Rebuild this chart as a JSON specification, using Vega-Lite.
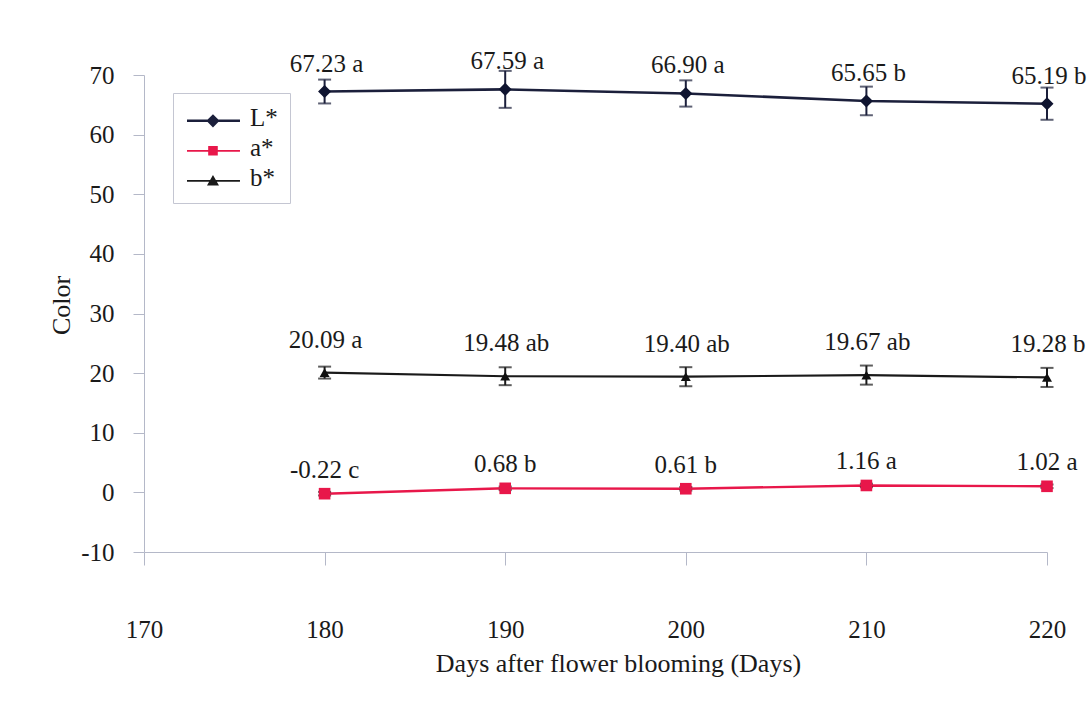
{
  "$schema": "https://vega.github.io/schema/vega-lite/v6.json",
  "autosize": "none",
  "width": 903,
  "height": 477,
  "padding": {"left": 144, "top": 75, "right": 43, "bottom": 149},
  "background": "white",
  "config": {
    "font": "Liberation Serif",
    "view": {"stroke": null},
    "axis": {"labelFont": "Liberation Serif", "titleFont": "Liberation Serif", "labelColor": "#1a1a1a", "titleColor": "#1a1a1a", "titleFontWeight": "normal", "grid": false, "domainColor": "#b4b8c8", "tickColor": "#b4b8c8", "domainWidth": 1, "tickWidth": 1, "labelFlush": false, "labelOverlap": false}
  },
  "data": {"values": [
    {"day": 180, "series": "L*", "value": 67.23, "err": 2.0, "label": "67.23 a"},
    {"day": 190, "series": "L*", "value": 67.59, "err": 3.1, "label": "67.59 a"},
    {"day": 200, "series": "L*", "value": 66.90, "err": 2.2, "label": "66.90 a"},
    {"day": 210, "series": "L*", "value": 65.65, "err": 2.4, "label": "65.65 b"},
    {"day": 220, "series": "L*", "value": 65.19, "err": 2.7, "label": "65.19 b"},
    {"day": 180, "series": "a*", "value": -0.22, "err": 0.3, "label": "-0.22 c"},
    {"day": 190, "series": "a*", "value": 0.68, "err": 0.3, "label": "0.68 b"},
    {"day": 200, "series": "a*", "value": 0.61, "err": 0.3, "label": "0.61 b"},
    {"day": 210, "series": "a*", "value": 1.16, "err": 0.3, "label": "1.16 a"},
    {"day": 220, "series": "a*", "value": 1.02, "err": 0.3, "label": "1.02 a"},
    {"day": 180, "series": "b*", "value": 20.09, "err": 1.0, "label": "20.09 a"},
    {"day": 190, "series": "b*", "value": 19.48, "err": 1.5, "label": "19.48 ab"},
    {"day": 200, "series": "b*", "value": 19.40, "err": 1.6, "label": "19.40 ab"},
    {"day": 210, "series": "b*", "value": 19.67, "err": 1.6, "label": "19.67 ab"},
    {"day": 220, "series": "b*", "value": 19.28, "err": 1.6, "label": "19.28 b"}
  ]},
  "encoding": {
    "x": {"field": "day", "type": "quantitative", "scale": {"domain": [170, 220], "nice": false, "zero": false},
      "axis": {"values": [170, 180, 190, 200, 210, 220], "tickSize": 13, "labelPadding": 52, "labelFontSize": 25, "titleFontSize": 26, "title": "Days after flower blooming (Days)", "titlePadding": 8, "titleX": 474}},
    "y": {"field": "value", "type": "quantitative", "scale": {"domain": [-10, 70], "nice": false, "zero": false},
      "axis": {"values": [-10, 0, 10, 20, 30, 40, 50, 60, 70], "tickSize": 11, "labelPadding": 19, "labelFontSize": 25, "titleFontSize": 26, "title": "Color", "titleX": -70, "titleY": 230,
        "labelExpr": "datum.value < 0 ? '-' + abs(datum.value) : '' + datum.value"}}
  },
  "layer": [
    {
      "mark": {"type": "line"},
      "encoding": {
        "color": {"field": "series", "type": "nominal", "scale": {"domain": ["L*", "a*", "b*"], "range": ["#1b1f3b", "#e8174a", "#1a1a1a"]}, "legend": null},
        "strokeWidth": {"field": "series", "type": "nominal", "scale": {"domain": ["L*", "a*", "b*"], "range": [2.6, 2.2, 1.6]}, "legend": null}
      }
    },
    {
      "mark": {"type": "errorbar", "ticks": true, "size": 13, "thickness": 2},
      "encoding": {
        "yError": {"field": "err"},
        "color": {"field": "series", "type": "nominal", "scale": {"domain": ["L*", "a*", "b*"], "range": ["#1b1f3b", "#1a1a1a", "#1a1a1a"]}, "legend": null}
      }
    },
    {
      "mark": {"type": "point", "filled": true, "opacity": 1},
      "encoding": {
        "color": {"field": "series", "type": "nominal", "scale": {"domain": ["L*", "a*", "b*"], "range": ["#0f1430", "#e8174a", "#111111"]}, "legend": null},
        "shape": {"field": "series", "type": "nominal", "scale": {"domain": ["L*", "a*", "b*"], "range": ["diamond", "square", "triangle-up"]}, "legend": null},
        "size": {"field": "series", "type": "nominal", "scale": {"domain": ["L*", "a*", "b*"], "range": [170, 100, 130]}, "legend": null}
      }
    },
    {
      "transform": [{"filter": "datum.series === 'L*'"}],
      "mark": {"type": "text", "font": "Liberation Serif", "fontSize": 25, "dy": -28, "dx": 2, "baseline": "middle", "color": "#1a1a1a"},
      "encoding": {"text": {"field": "label"}}
    },
    {
      "transform": [{"filter": "datum.series === 'b*'"}],
      "mark": {"type": "text", "font": "Liberation Serif", "fontSize": 25, "dy": -33, "dx": 1, "baseline": "middle", "color": "#1a1a1a"},
      "encoding": {"text": {"field": "label"}}
    },
    {
      "transform": [{"filter": "datum.series === 'a*'"}],
      "mark": {"type": "text", "font": "Liberation Serif", "fontSize": 25, "dy": -24, "baseline": "middle", "color": "#1a1a1a"},
      "encoding": {"text": {"field": "label"}}
    },
    {
      "mark": {"type": "point", "filled": true, "opacity": 0},
      "encoding": {
        "color": {"field": "series", "type": "nominal", "scale": {"domain": ["L*", "a*", "b*"], "range": ["#1b1f3b", "#e8174a", "#1a1a1a"]},
          "legend": {"title": null, "orient": "none", "legendX": 29, "legendY": 18, "padding": 12, "strokeColor": "#c4c6d2", "fillColor": "white", "labelFont": "Liberation Serif", "labelFontSize": 25, "labelColor": "#1a1a1a", "labelOffset": 40, "rowPadding": 4, "symbolSize": 144, "symbolOpacity": 1, "symbolStrokeWidth": 0,
            "encode": {"symbols": {"update": {"opacity": {"value": 1}}}}}},
        "shape": {"field": "series", "type": "nominal", "scale": {"domain": ["L*", "a*", "b*"], "range": [
          "M-1.75,0.35H7.08V0.75H-1.75Z M2.58,-0.55L3.68,0.55L2.58,1.65L1.48,0.55Z",
          "M-1.75,0.4H7.08V0.7H-1.75Z M1.78,-0.25H3.38V1.35H1.78Z",
          "M-1.75,0.4H7.08V0.7H-1.75Z M2.58,-0.4L3.58,1.35H1.58Z"
        ]},
          "legend": {"title": null, "orient": "none", "legendX": 29, "legendY": 18, "padding": 12, "strokeColor": "#c4c6d2", "fillColor": "white", "labelFont": "Liberation Serif", "labelFontSize": 25, "labelColor": "#1a1a1a", "labelOffset": 40, "rowPadding": 4, "symbolSize": 144, "symbolOpacity": 1, "symbolStrokeWidth": 0,
            "encode": {"symbols": {"update": {"opacity": {"value": 1}}}}}}
      }
    }
  ],
  "resolve": {"scale": {"color": "independent", "shape": "independent", "size": "independent"}}
}
